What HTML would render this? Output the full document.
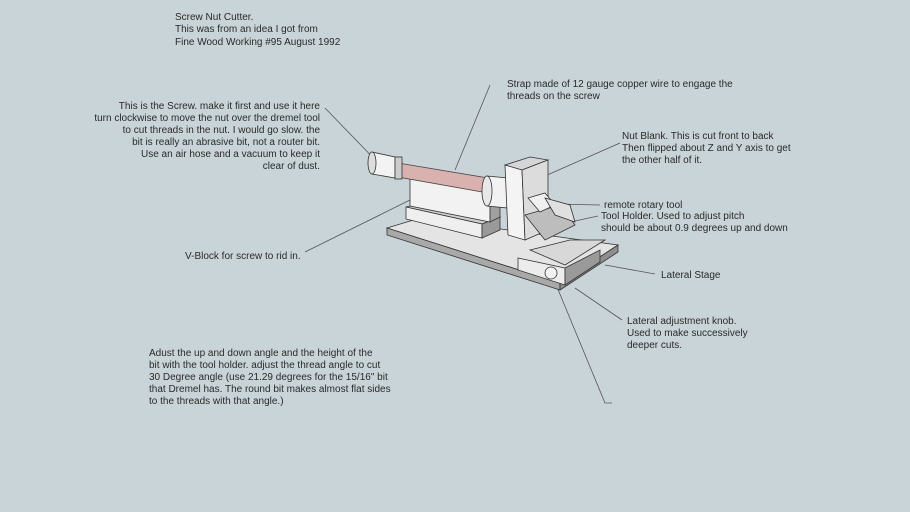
<!DOCTYPE html>
<html><head><style>
body{margin:0;background:#c9d4d8;}
svg{display:block}
text{font-family:"Liberation Sans",sans-serif;font-size:10px;fill:#2a2a2a}
</style></head><body>
<svg width="910" height="512" viewBox="0 0 910 512">
<rect width="910" height="512" fill="#c9d4d8"/>
<g stroke="#555" stroke-width="0.8" fill="none">
<line x1="325" y1="108" x2="383" y2="168"/>
<line x1="490" y1="85" x2="455" y2="170"/>
<line x1="620" y1="143" x2="545" y2="176"/>
<line x1="600" y1="205" x2="555" y2="204"/>
<line x1="598" y1="216" x2="575" y2="221"/>
<line x1="655" y1="274" x2="605" y2="265"/>
<line x1="622" y1="320" x2="575" y2="288"/>
<line x1="305" y1="252" x2="410" y2="200"/>
<polyline points="557,287 605,403 612,403"/>
</g>
<polygon points="387,228 420,218 618,245 560,283" fill="#e4e4e4" stroke="#333" stroke-width="0.8"/>
<polygon points="387,228 560,283 560,290 387,235" fill="#a9a9a9" stroke="#333" stroke-width="0.8"/>
<polygon points="560,283 618,245 618,252 560,290" fill="#8e8e8e" stroke="#333" stroke-width="0.8"/>
<polygon points="406,207 482,224 500,217 425,202" fill="#cfcfcf" stroke="#333" stroke-width="0.8"/>
<polygon points="406,207 482,224 482,238 406,219" fill="#efefef" stroke="#333" stroke-width="0.8"/>
<polygon points="482,224 500,217 500,230 482,238" fill="#9a9a9a" stroke="#333" stroke-width="0.8"/>
<polygon points="410,176 490,193 490,222 410,206" fill="#f2f2f2" stroke="#333" stroke-width="0.8"/>
<polygon points="490,193 500,188 500,217 490,222" fill="#a0a0a0" stroke="#333" stroke-width="0.8"/>
<polygon points="398,163 488,178 488,193 398,177" fill="#d9b2b0" stroke="#444" stroke-width="0.8"/>
<polygon points="372,152 395,157 395,178 372,174" fill="#f3f3f3" stroke="#333" stroke-width="0.8"/>
<ellipse cx="372" cy="163" rx="4" ry="11" fill="#ddd" stroke="#333" stroke-width="0.8"/>
<rect x="395" y="157" width="7" height="22" fill="#ccc" stroke="#333" stroke-width="0.8"/>
<polygon points="487,176 508,178 508,208 487,206" fill="#f2f2f2" stroke="#333" stroke-width="0.8"/>
<ellipse cx="487" cy="191" rx="5" ry="15" fill="#e8e8e8" stroke="#333" stroke-width="0.8"/>
<polygon points="505,165 530,157 548,160 522,170" fill="#d6d6d6" stroke="#333" stroke-width="0.8"/>
<polygon points="505,165 522,170 525,240 508,235" fill="#f4f4f4" stroke="#333" stroke-width="0.8"/>
<polygon points="522,170 548,160 548,230 525,240" fill="#dcdcdc" stroke="#333" stroke-width="0.8"/>
<polygon points="525,215 560,205 575,225 545,240" fill="#bdbdbd" stroke="#333" stroke-width="0.8"/>
<polygon points="528,198 545,193 555,205 540,212" fill="#f0f0f0" stroke="#333" stroke-width="0.8"/>
<polygon points="545,198 570,205 575,222 555,215" fill="#e0e0e0" stroke="#333" stroke-width="0.8"/>
<polygon points="530,250 570,240 605,240 565,265" fill="#d8d8d8" stroke="#333" stroke-width="0.8"/>
<polygon points="518,258 565,268 565,285 518,270" fill="#ececec" stroke="#333" stroke-width="0.8"/>
<polygon points="565,268 600,250 600,262 565,285" fill="#9a9a9a" stroke="#333" stroke-width="0.8"/>
<circle cx="551" cy="273" r="6" fill="#f2f2f2" stroke="#333" stroke-width="0.8"/>
<text x="175" y="20">Screw Nut Cutter.</text>
<text x="175" y="32">This was from an idea I got from</text>
<text x="175" y="45">Fine Wood Working #95 August 1992</text>
<text x="507" y="87">Strap made of 12 gauge copper wire to engage the</text>
<text x="507" y="99">threads on the screw</text>
<g text-anchor="end">
<text x="320" y="109">This is the Screw.  make it first and use it here</text>
<text x="320" y="121">turn clockwise to move the nut over the dremel tool</text>
<text x="320" y="133">to cut threads in the nut.  I would go slow. the</text>
<text x="320" y="145">bit is really an abrasive bit, not a router bit.</text>
<text x="320" y="157">Use an air hose and a vacuum to keep it</text>
<text x="320" y="169">clear of dust.</text>
</g>
<text x="622" y="139">Nut Blank. This is cut front to back</text>
<text x="622" y="151">Then flipped about Z and Y axis to get</text>
<text x="622" y="163">the other half of it.</text>
<text x="604" y="208">remote rotary tool</text>
<text x="601" y="219">Tool Holder. Used to adjust pitch</text>
<text x="601" y="231">should be about 0.9 degrees up and down</text>
<text x="185" y="259">V-Block for screw to rid in.</text>
<text x="661" y="278">Lateral Stage</text>
<text x="627" y="324">Lateral adjustment knob.</text>
<text x="627" y="336">Used to make successively</text>
<text x="627" y="348">deeper cuts.</text>
<text x="149" y="356">Adust the up and down angle and the height of the</text>
<text x="149" y="368">bit with the tool holder. adjust the thread angle to cut</text>
<text x="149" y="380">30 Degree angle (use 21.29 degrees for the 15/16" bit</text>
<text x="149" y="392">that Dremel has.  The round bit makes almost flat sides</text>
<text x="149" y="404">to the threads with that angle.)</text>
</svg>
</body></html>
